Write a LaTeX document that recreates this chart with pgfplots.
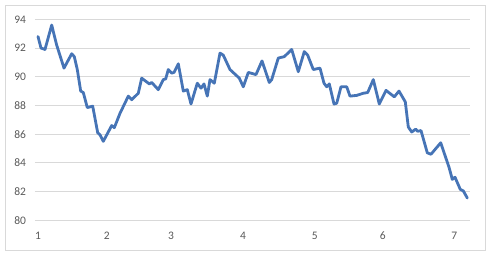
\documentclass[border=0pt]{standalone}
\usepackage{fontspec}
\setmainfont{Carlito}
\usepackage{pgfplots}
\pgfplotsset{compat=1.18}
\definecolor{linecol}{RGB}{70,116,182}
\definecolor{gridcol}{RGB}{217,217,217}
\definecolor{labcol}{RGB}{89,89,89}
\begin{document}
\begin{tikzpicture}
\path[use as bounding box] (0pt,0pt) rectangle (493pt,258pt);
\draw[gridcol, line width=0.75pt] (5.5pt,7.5pt) rectangle (485.5pt,252.5pt);
\begin{axis}[at={(35pt,37.7pt)}, anchor=south west, scale only axis,
  width=435pt, height=201pt,
  xmin=35, xmax=470, ymin=80, ymax=94,
  axis line style={draw=none},
  ytick={80,82,...,94},
  xtick={38,106.7,171,243,314.7,382.7,454.3},
  xticklabels={1,2,3,4,5,6,7},
  major tick length=0pt,
  ymajorgrids, grid style={gridcol, line width=0.75pt},
  tick label style={font=\fontsize{11.5}{13}\selectfont, text=labcol},
  /pgf/number format/assume math mode=true,
  yticklabel style={xshift=-5.5pt},
  xticklabel style={yshift=-8pt},
]
\addplot[linecol, line width=2.8pt, line join=round, line cap=round] coordinates {
(38,92.8) (41,92.0) (45,91.9) (51.7,93.6) (56.7,92.2) (64,90.6) (71.7,91.6)
(74.3,91.4) (77.3,90.5) (80.7,89.0) (83.3,88.9) (87.3,87.85) (92.7,87.95)
(97.7,86.1) (100,85.95) (103.3,85.5) (111.7,86.6) (114.3,86.45) (120,87.45)
(128.3,88.65) (131.7,88.4) (138.3,88.85) (141.7,89.9) (149.3,89.5) (151.7,89.6)
(158.3,89.1) (163.3,89.8) (165.7,89.85) (168.3,90.5) (171.7,90.25) (174,90.3)
(178.3,90.9) (183.3,89.0) (187.3,89.1) (191,88.1) (197.3,89.55) (201,89.2)
(204,89.5) (207.3,88.65) (210,89.8) (214.3,89.55) (220,91.65) (223.3,91.5)
(230,90.5) (239.3,89.9) (243.3,89.3) (248.3,90.3) (256,90.15) (262,91.1)
(269.3,89.6) (271.7,89.8) (278.3,91.3) (284.3,91.4) (291.7,91.9) (298.3,90.35)
(304.3,91.75) (307.7,91.5) (313.3,90.5) (320,90.6) (324,89.55) (326.7,89.3)
(329.3,89.5) (334,88.1) (336.7,88.15) (341,89.3) (346.7,89.3) (350,88.65)
(356.7,88.7) (363.3,88.85) (367.7,88.9) (373.3,89.8) (379.3,88.1) (386,89.05)
(394.3,88.6) (399,89.0) (405.3,88.25) (408.3,86.5) (411.7,86.15) (415.7,86.35)
(417.7,86.2) (421,86.25) (427.3,84.7) (431,84.6) (440.7,85.4) (449,83.7)
(452.3,82.85) (455,83.0) (460.3,82.15) (463.3,82.05) (467.3,81.55)
};
\end{axis}
\end{tikzpicture}
\end{document}
